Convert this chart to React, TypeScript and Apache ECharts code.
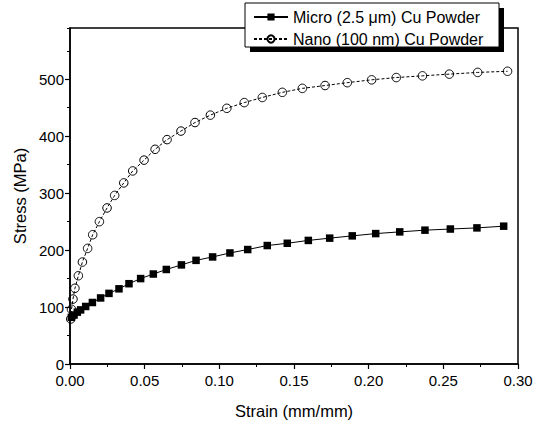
import React, { useEffect, useRef } from "react";
import * as echarts from "echarts";

const microStrain = [0.0009, 0.0027, 0.0049, 0.0071, 0.0105, 0.015, 0.0205, 0.0261, 0.0328, 0.0395, 0.0473, 0.0558, 0.0645, 0.0746, 0.0844, 0.0955, 0.1071, 0.119, 0.1321, 0.1455, 0.1596, 0.1739, 0.189, 0.2047, 0.2208, 0.2377, 0.2547, 0.2725, 0.2904];
const microStress = [82, 86, 91, 95, 101, 108, 116, 124, 132, 141, 150, 158, 166, 174, 182, 188, 195, 201, 208, 212, 217, 221, 225, 229, 232, 235, 237, 239, 242];

const nanoStrain = [0.0005, 0.001, 0.002, 0.0033, 0.0056, 0.0083, 0.0118, 0.0152, 0.0197, 0.0248, 0.0299, 0.036, 0.042, 0.0496, 0.057, 0.065, 0.0743, 0.0837, 0.094, 0.105, 0.1167, 0.1288, 0.1422, 0.1556, 0.1708, 0.1857, 0.202, 0.2185, 0.236, 0.254, 0.273, 0.293];
const nanoStress = [79, 96, 114, 133, 155, 179, 203, 227, 250, 274, 296, 318, 339, 358, 377, 394, 409, 424, 437, 449, 459, 468, 477, 484, 489, 494, 499, 503, 506, 509, 512, 514];

const seriesNames = ["Micro (2.5 μm) Cu Powder", "Nano (100 nm) Cu Powder"];
const xName = "Strain (mm/mm)";
const yName = "Stress (MPa)";

const FONT = "Liberation Sans, Arial, sans-serif";

export default function App() {
  const ref = useRef<HTMLDivElement>(null);
  useEffect(() => {
    if (!ref.current) return;
    const chart = echarts.init(ref.current, null, { renderer: "svg" });
    const micro = microStrain.map((x, i) => [x, microStress[i]]);
    const nano = nanoStrain.map((x, i) => [x, nanoStress[i]]);
    const axisLine = { show: true, lineStyle: { color: "#000", width: 1.5 } };
    chart.setOption({
      animation: false,
      backgroundColor: "#fff",
      textStyle: { fontFamily: FONT, color: "#000" },
      grid: {
        left: 70,
        right: 19,
        top: 28,
        bottom: 59,
        show: true,
        borderColor: "#000",
        borderWidth: 1.5,
        backgroundColor: "transparent",
      },
      graphic: [
        { type: "rect", z: 10, shape: { x: 250, y: 8, width: 254, height: 44 }, style: { fill: "#000" } },
        { type: "rect", z: 11, shape: { x: 245, y: 3, width: 254, height: 44 }, style: { fill: "#fff", stroke: "#000", lineWidth: 1 } },
      ],
      legend: {
        z: 20,
        left: 248,
        top: 4,
        orient: "vertical",
        itemWidth: 34,
        itemHeight: 9,
        itemGap: 6,
        textStyle: { fontSize: 16, fontFamily: FONT, color: "#000" },
        data: seriesNames,
      },
      xAxis: {
        type: "value",
        min: 0,
        max: 0.3,
        interval: 0.05,
        name: xName,
        nameLocation: "middle",
        nameGap: 38,
        nameTextStyle: { fontSize: 16.5, fontFamily: FONT, color: "#000" },
        axisLine,
        axisTick: { show: true, inside: false, length: 5, lineStyle: { color: "#000", width: 1.2 } },
        minorTick: { show: true, splitNumber: 2, length: 3, lineStyle: { color: "#000", width: 1 } },
        splitLine: { show: false },
        axisLabel: {
          fontSize: 15,
          fontFamily: FONT,
          color: "#000",
          margin: 9,
          formatter: (v: number) => v.toFixed(2),
        },
      },
      yAxis: [
        {
          type: "value",
          position: "left",
          min: 0,
          max: 590,
          interval: 100,
          name: yName,
          nameLocation: "middle",
          nameGap: 32,
          nameTextStyle: { fontSize: 16.5, fontFamily: FONT, color: "#000" },
          axisLine,
          axisTick: { show: true, inside: false, length: 5, lineStyle: { color: "#000", width: 1.2 } },
          splitLine: { show: false },
          axisLabel: {
            fontSize: 15,
            fontFamily: FONT,
            color: "#000",
            margin: 6,
            showMaxLabel: false,
            formatter: (v: number) => (v % 100 === 0 ? String(v) : ""),
          },
        },
        {
          type: "value",
          position: "left",
          min: 0,
          max: 590,
          interval: 50,
          axisLine: { show: false },
          axisTick: { show: true, inside: false, length: 3, lineStyle: { color: "#000", width: 1 } },
          splitLine: { show: false },
          axisLabel: { show: false },
        },
      ],
      series: [
        {
          name: seriesNames[0],
          type: "line",
          data: micro,
          symbol: "rect",
          symbolSize: 7.5,
          itemStyle: { color: "#000" },
          lineStyle: { color: "#000", width: 1 },
          z: 3,
        },
        {
          name: seriesNames[1],
          type: "line",
          data: nano,
          symbol: "circle",
          symbolSize: 8.5,
          itemStyle: { color: "transparent", borderColor: "#000", borderWidth: 1 },
          lineStyle: { color: "#000", width: 1, type: [3, 2] },
          z: 3,
        },
      ],
    });
    return () => chart.dispose();
  }, []);
  return <div ref={ref} style={{ width: 537, height: 424, position: "absolute", left: 0, top: 0 }} />;
}
